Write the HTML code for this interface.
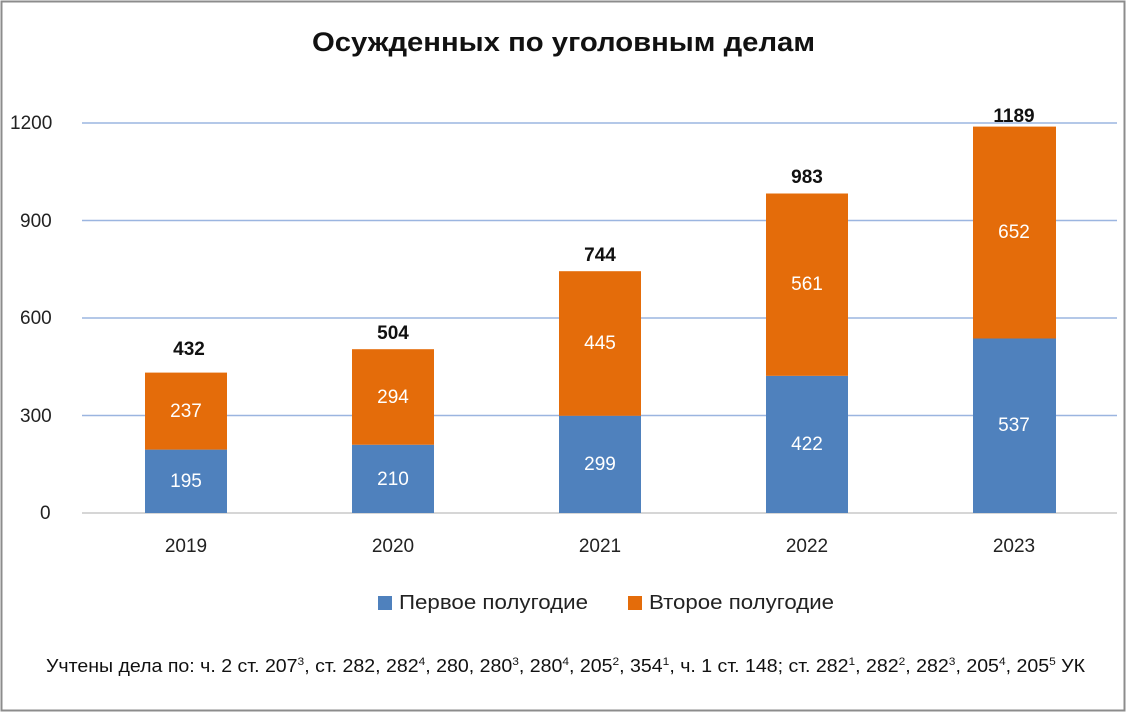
<!DOCTYPE html>
<html><head><meta charset="utf-8"><style>
html,body{margin:0;padding:0;background:#fff}
svg{display:block;font-family:"Liberation Sans","DejaVu Sans",sans-serif}
</style></head><body>
<svg width="1126" height="712" viewBox="0 0 1126 712">
<rect x="1.5" y="1.5" width="1123" height="709" fill="#fff" stroke="#8c8c8c" stroke-width="2"/>
<text x="312" y="51" font-size="27" font-weight="bold" fill="#111" textLength="503" lengthAdjust="spacingAndGlyphs">Осужденных по уголовным делам</text>
<g stroke="#9bb5e0" stroke-width="1.5">
<line x1="82" y1="123" x2="1117" y2="123"/>
<line x1="82" y1="220.5" x2="1117" y2="220.5"/>
<line x1="82" y1="318" x2="1117" y2="318"/>
<line x1="82" y1="415.5" x2="1117" y2="415.5"/>
</g>
<line x1="82" y1="513" x2="1117" y2="513" stroke="#c8c8c8" stroke-width="1.5"/>
<g font-size="19" fill="#222" text-anchor="start">
<text x="10" y="129">1200</text>
<text x="20" y="227">900</text>
<text x="20" y="324">600</text>
<text x="20" y="422">300</text>
<text x="40" y="519">0</text>
</g>
<g fill="#4f81bd">
<rect x="145" y="449.6" width="82" height="63.4"/>
<rect x="352" y="444.75" width="82" height="68.25"/>
<rect x="559" y="415.8" width="82" height="97.2"/>
<rect x="766" y="375.85" width="82" height="137.15"/>
<rect x="973" y="338.5" width="83" height="174.5"/>
</g>
<g fill="#e46c0a">
<rect x="145" y="372.6" width="82" height="77"/>
<rect x="352" y="349.2" width="82" height="95.55"/>
<rect x="559" y="271.2" width="82" height="144.6"/>
<rect x="766" y="193.5" width="82" height="182.35"/>
<rect x="973" y="126.6" width="83" height="211.9"/>
</g>
<g font-size="19" fill="#fff" text-anchor="middle">
<text x="186" y="487">195</text><text x="186" y="417">237</text>
<text x="393" y="485">210</text><text x="393" y="403">294</text>
<text x="600" y="470">299</text><text x="600" y="349">445</text>
<text x="807" y="450">422</text><text x="807" y="290">561</text>
<text x="1014" y="431">537</text><text x="1014" y="238">652</text>
</g>
<g font-size="19" font-weight="bold" fill="#111" text-anchor="middle">
<text x="189" y="355">432</text>
<text x="393" y="339">504</text>
<text x="600" y="261">744</text>
<text x="807" y="183">983</text>
<text x="1014" y="122">1189</text>
</g>
<g font-size="19" fill="#222" text-anchor="middle">
<text x="186" y="552">2019</text>
<text x="393" y="552">2020</text>
<text x="600" y="552">2021</text>
<text x="807" y="552">2022</text>
<text x="1014" y="552">2023</text>
</g>
<rect x="378" y="596" width="14" height="14" fill="#4f81bd"/>
<text x="399" y="609" font-size="20" fill="#222" textLength="189" lengthAdjust="spacingAndGlyphs">Первое полугодие</text>
<rect x="628" y="596" width="14" height="14" fill="#e46c0a"/>
<text x="649" y="609" font-size="20" fill="#222" textLength="185" lengthAdjust="spacingAndGlyphs">Второе полугодие</text>
<text x="46" y="672" font-size="18" fill="#111" textLength="1039" lengthAdjust="spacingAndGlyphs">Учтены дела по: ч. 2 ст. 207<tspan dy="-7" font-size="11">3</tspan><tspan dy="7">, ст. 282, 282</tspan><tspan dy="-7" font-size="11">4</tspan><tspan dy="7">, 280, 280</tspan><tspan dy="-7" font-size="11">3</tspan><tspan dy="7">, 280</tspan><tspan dy="-7" font-size="11">4</tspan><tspan dy="7">, 205</tspan><tspan dy="-7" font-size="11">2</tspan><tspan dy="7">, 354</tspan><tspan dy="-7" font-size="11">1</tspan><tspan dy="7">, ч. 1 ст. 148; ст. 282</tspan><tspan dy="-7" font-size="11">1</tspan><tspan dy="7">, 282</tspan><tspan dy="-7" font-size="11">2</tspan><tspan dy="7">, 282</tspan><tspan dy="-7" font-size="11">3</tspan><tspan dy="7">, 205</tspan><tspan dy="-7" font-size="11">4</tspan><tspan dy="7">, 205</tspan><tspan dy="-7" font-size="11">5</tspan><tspan dy="7"> УК</tspan></text>
</svg>
</body></html>
